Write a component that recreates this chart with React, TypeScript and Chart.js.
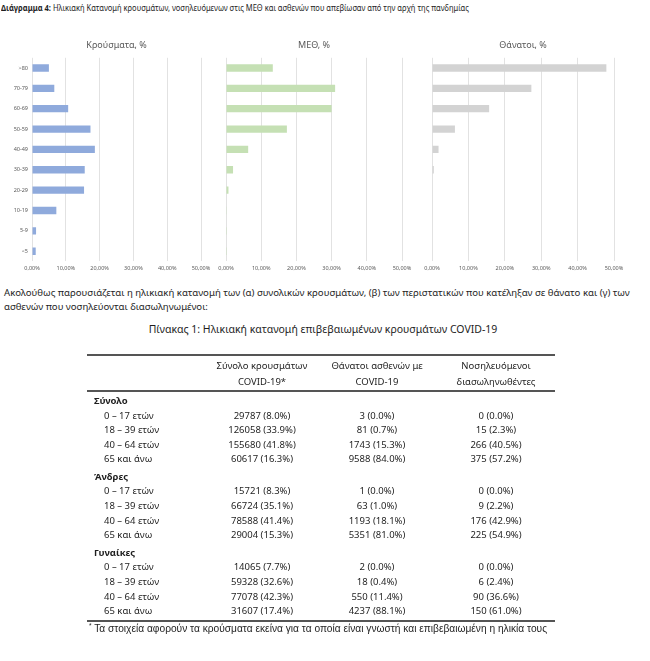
import React, { useEffect, useRef } from "react";
import { Chart, registerables } from "chart.js";

Chart.register(...registerables);

// ---------- Chart data ----------
const ageGroups = [">80", "70-79", "60-69", "50-59", "40-49", "30-39", "20-29", "10-19", "5-9", "<5"];
const casesPct = [5.0, 6.6, 10.7, 17.3, 18.6, 15.6, 15.4, 7.2, 1.2, 1.1];
const icuPct = [13.3, 31.0, 30.0, 17.3, 6.3, 2.0, 0.7, 0.2, 0.05, 0.05];
const deathsPct = [47.9, 27.3, 15.7, 6.3, 1.8, 0.5, 0.0, 0.0, 0.0, 0.0];
const axisTicks = [0, 10, 20, 30, 40, 50];

const panelTitles = ["Κρούσματα, %", "ΜΕΘ, %", "Θάνατοι, %"];

// ---------- Table data ----------
const tableHeaders = [
  ["Σύνολο κρουσμάτων", "COVID-19*"],
  ["Θάνατοι ασθενών με", "COVID-19"],
  ["Νοσηλευόμενοι", "διασωληνωθέντες"],
];
const tableGroups = ["Σύνολο", "Άνδρες", "Γυναίκες"];
const tableAgeLabels = ["0 – 17 ετών", "18 – 39 ετών", "40 – 64 ετών", "65 και άνω"];
const totalCases = ["29787 (8.0%)", "126058 (33.9%)", "155680 (41.8%)", "60617 (16.3%)"];
const totalDeaths = ["3 (0.0%)", "81 (0.7%)", "1743 (15.3%)", "9588 (84.0%)"];
const totalIntubated = ["0 (0.0%)", "15 (2.3%)", "266 (40.5%)", "375 (57.2%)"];
const menCases = ["15721 (8.3%)", "66724 (35.1%)", "78588 (41.4%)", "29004 (15.3%)"];
const menDeaths = ["1 (0.0%)", "63 (1.0%)", "1193 (18.1%)", "5351 (81.0%)"];
const menIntubated = ["0 (0.0%)", "9 (2.2%)", "176 (42.9%)", "225 (54.9%)"];
const womenCases = ["14065 (7.7%)", "59328 (32.6%)", "77078 (42.3%)", "31607 (17.4%)"];
const womenDeaths = ["2 (0.0%)", "18 (0.4%)", "550 (11.4%)", "4237 (88.1%)"];
const womenIntubated = ["0 (0.0%)", "6 (2.4%)", "90 (36.6%)", "150 (61.0%)"];

const FONT = "'Noto Sans', 'Open Sans', sans-serif";

type PanelProps = {
  left: number;
  top: number;
  width: number;
  height: number;
  title: string;
  values: number[];
  color: string;
  showLabels: boolean;
};

function BarPanel({ left, top, width, height, title, values, color, showLabels }: PanelProps) {
  const ref = useRef<HTMLCanvasElement | null>(null);
  useEffect(() => {
    if (!ref.current) return;
    const yScale: any = {
      display: showLabels,
      ticks: {
        font: { family: FONT, size: 5.5 },
        color: "#595959",
        padding: 4,
        autoSkip: false,
      },
      grid: { display: false, drawTicks: false },
      border: { display: false },
    };
    if (showLabels) {
      yScale.afterFit = (scale: any) => {
        scale.width = 32;
      };
    }
    const chart = new Chart(ref.current, {
      type: "bar",
      data: {
        labels: ageGroups,
        datasets: [
          {
            data: values,
            backgroundColor: color,
            borderWidth: 0,
            barPercentage: 0.36,
            categoryPercentage: 1,
          },
        ],
      },
      options: {
        indexAxis: "y",
        responsive: false,
        animation: false,
        layout: { padding: { left: showLabels ? 0 : 12, right: 14, top: 0, bottom: 0 } },
        plugins: {
          legend: { display: false },
          tooltip: { enabled: false },
          title: {
            display: true,
            text: title,
            fullSize: false,
            color: "#595959",
            font: { family: FONT, size: 9, weight: "normal" },
            padding: { top: 4, bottom: 7 },
          },
        },
        scales: {
          x: {
            min: axisTicks[0],
            max: axisTicks[axisTicks.length - 1],
            afterBuildTicks: (scale: any) => {
              scale.ticks = axisTicks.map((v) => ({ value: v }));
            },
            ticks: {
              callback: (v: any) => Number(v).toFixed(2).replace(".", ",") + "%",
              font: { family: FONT, size: 5.5 },
              color: "#595959",
              padding: 4,
              maxRotation: 0,
              autoSkip: false,
            },
            grid: { color: "#e2e2e2", lineWidth: 1, drawTicks: false },
            border: { display: false },
          },
          y: yScale,
        },
      } as any,
    });
    return () => chart.destroy();
  }, []);
  return (
    <canvas
      ref={ref}
      width={width}
      height={height}
      style={{ position: "absolute", left, top, width, height, display: "block" }}
    />
  );
}

const textColor = "#1e1e1e";

function DataTable() {
  const groups = [
    [totalCases, totalDeaths, totalIntubated],
    [menCases, menDeaths, menIntubated],
    [womenCases, womenDeaths, womenIntubated],
  ];
  const colCenters = [262, 377, 496];
  const tableLeft = 87;
  const tableRight = 555;
  const rowH = 14.6;
  const groupH = 17.5;
  const items: React.ReactNode[] = [];
  let y = 391;
  groups.forEach((cols, gi) => {
    items.push(
      <div
        key={"g" + gi}
        style={{
          position: "absolute",
          left: 94,
          top: y + 3,
          height: rowH,
          lineHeight: rowH + "px",
          fontWeight: 700,
          whiteSpace: "nowrap",
        }}
      >
        {tableGroups[gi]}
      </div>
    );
    y += groupH;
    tableAgeLabels.forEach((lab, ri) => {
      items.push(
        <div
          key={"l" + gi + "-" + ri}
          style={{ position: "absolute", left: 104, top: y, lineHeight: rowH + "px", whiteSpace: "nowrap" }}
        >
          {lab}
        </div>
      );
      cols.forEach((col, ci) => {
        items.push(
          <div
            key={"c" + gi + "-" + ri + "-" + ci}
            style={{
              position: "absolute",
              left: colCenters[ci] - 80,
              width: 160,
              top: y,
              lineHeight: rowH + "px",
              textAlign: "center",
              whiteSpace: "nowrap",
            }}
          >
            {col[ri]}
          </div>
        );
      });
      y += rowH;
    });
  });

  return (
    <div style={{ position: "absolute", left: 0, top: 0, width: 650, height: 661, fontFamily: FONT, fontSize: 9.5, color: textColor }}>
      <div style={{ position: "absolute", left: tableLeft, top: 354, width: tableRight - tableLeft, height: 1.5, background: "#555" }} />
      {tableHeaders.map((h, i) => (
        <div
          key={"h" + i}
          style={{
            position: "absolute",
            left: colCenters[i] - 80,
            width: 160,
            top: 358,
            lineHeight: "16px",
            textAlign: "center",
            whiteSpace: "nowrap",
          }}
        >
          {h[0]}
          <br />
          {h[1]}
        </div>
      ))}
      <div style={{ position: "absolute", left: tableLeft, top: 390, width: tableRight - tableLeft, height: 1.5, background: "#555" }} />
      {items}
      <div style={{ position: "absolute", left: tableLeft, top: 620, width: tableRight - tableLeft, height: 1.5, background: "#555" }} />
      <div
        style={{
          position: "absolute",
          left: 89,
          top: 619,
          lineHeight: "14px",
          fontFamily: "'Liberation Sans', Arial, sans-serif",
          fontSize: 10.2,
          whiteSpace: "nowrap",
        }}
      >
        <sup style={{ fontSize: 6.5 }}>*</sup> Τα στοιχεία αφορούν τα κρούσματα εκείνα για τα οποία είναι γνωστή και επιβεβαιωμένη η ηλικία τους
      </div>
    </div>
  );
}

export default function App() {
  return (
    <div
      style={{
        position: "absolute",
        left: 0,
        top: 0,
        width: 650,
        height: 661,
        background: "#fff",
        overflow: "hidden",
        fontFamily: FONT,
        color: textColor,
      }}
    >
      <div
        style={{
          position: "absolute",
          left: 1,
          top: 2,
          fontSize: 8.5,
          lineHeight: "12px",
          whiteSpace: "nowrap",
          transform: "scaleX(0.885)",
          transformOrigin: "0 0",
        }}
      >
        <b>Διάγραμμα 4:</b> Ηλικιακή Κατανομή κρουσμάτων, νοσηλευόμενων στις ΜΕΘ και ασθενών που απεβίωσαν από την αρχή της πανδημίας
      </div>

      <BarPanel left={0} top={36} width={215} height={240} title={panelTitles[0]} values={casesPct} color="#8faadc" showLabels={true} />
      <BarPanel left={214} top={36} width={202} height={240} title={panelTitles[1]} values={icuPct} color="#c5e0b4" showLabels={false} />
      <BarPanel left={420} top={36} width={208} height={240} title={panelTitles[2]} values={deathsPct} color="#d3d3d3" showLabels={false} />

      <div style={{ position: "absolute", left: 4, top: 286, fontSize: 9.6, lineHeight: "14px", whiteSpace: "nowrap" }}>
        Ακολούθως παρουσιάζεται η ηλικιακή κατανομή των (α) συνολικών κρουσμάτων, (β) των περιστατικών που κατέληξαν σε θάνατο και (γ) των
        <br />
        ασθενών που νοσηλεύονται διασωληνωμένοι:
      </div>

      <div style={{ position: "absolute", left: 0, width: 646, top: 322, fontSize: 10.5, lineHeight: "14px", textAlign: "center", whiteSpace: "nowrap" }}>
        Πίνακας 1: Ηλικιακή κατανομή επιβεβαιωμένων κρουσμάτων COVID-19
      </div>

      <DataTable />
    </div>
  );
}
